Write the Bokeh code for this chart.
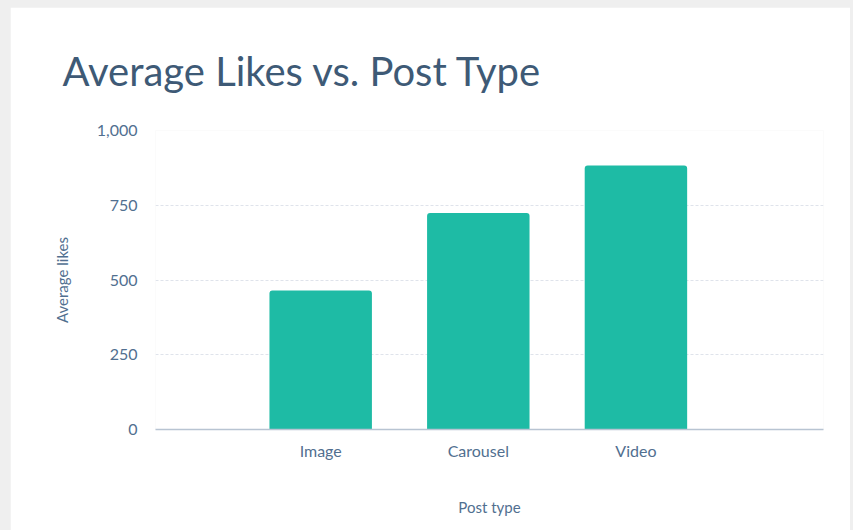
from bokeh.plotting import figure
from bokeh.models import Range1d, FixedTicker, NumeralTickFormatter
from bokeh.embed import file_html
from bokeh.resources import INLINE

categories = ["Image", "Carousel", "Video"]
avg_likes = [465, 724, 883]
y_ticks = [0, 250, 500, 750, 1000]
title_text = "Average Likes vs. Post Type"

FONT = "Lato"
TXT = "#516f90"

positions = list(range(len(categories)))

p = figure(width=840, height=523, output_backend="svg", toolbar_location=None,
           x_range=Range1d(-1.048, 3.19), y_range=Range1d(0, 1000),
           min_border_left=145, min_border_right=27, min_border_top=123,
           min_border_bottom=101)

p.vbar(x=positions, top=avg_likes, width=0.65, bottom=0,
       fill_color="#1ebba5", line_color=None, border_radius=[3, 3, 0, 0])

p.title.text = title_text
p.title.text_font = FONT
p.title.text_font_size = "40px"
p.title.text_font_style = "normal"
p.title.text_color = "#3e5a76"
p.title.offset = -93
p.title.standoff = 72

p.background_fill_color = "white"
p.border_fill_color = "white"
p.outline_line_color = None

# x axis
p.xaxis.ticker = FixedTicker(ticks=positions)
p.xaxis.major_label_overrides = {i: c for i, c in enumerate(categories)}
p.xaxis.axis_label = "Post type"
p.xaxis.axis_line_color = "#b8c4d2"
p.xaxis.axis_line_width = 1.5
p.xaxis.major_tick_line_color = None
p.xaxis.minor_tick_line_color = None
p.xaxis.major_label_standoff = 5
p.xaxis.axis_label_standoff = 35

# y axis
p.yaxis.ticker = FixedTicker(ticks=y_ticks)
p.yaxis.formatter = NumeralTickFormatter(format="0,0")
p.yaxis.axis_label = "Average likes"
p.yaxis.axis_line_color = None
p.yaxis.major_tick_line_color = None
p.yaxis.minor_tick_line_color = None
p.yaxis.major_label_standoff = 12
p.yaxis.axis_label_standoff = 23

for ax in (p.xaxis, p.yaxis):
    ax.major_label_text_font = FONT
    ax.major_label_text_font_size = "16px"
    ax.major_label_text_color = TXT
    ax.axis_label_text_font = FONT
    ax.axis_label_text_font_size = "15px"
    ax.axis_label_text_font_style = "normal"
    ax.axis_label_text_color = TXT

p.xgrid.grid_line_color = None
p.ygrid.grid_line_color = "#dfe3eb"
p.ygrid.grid_line_dash = "3 2"
p.ygrid.grid_line_width = 1

html = file_html(p, INLINE)
html = html.replace("</head>",
                    "<style>html {margin:0 !important; padding:0 !important; background:#efefef !important;} "
                    "body {margin:0 !important; padding:7px 0 0 10px !important; "
                    "background:#efefef !important;}</style></head>", 1)
open("out.html", "w").write(html)
